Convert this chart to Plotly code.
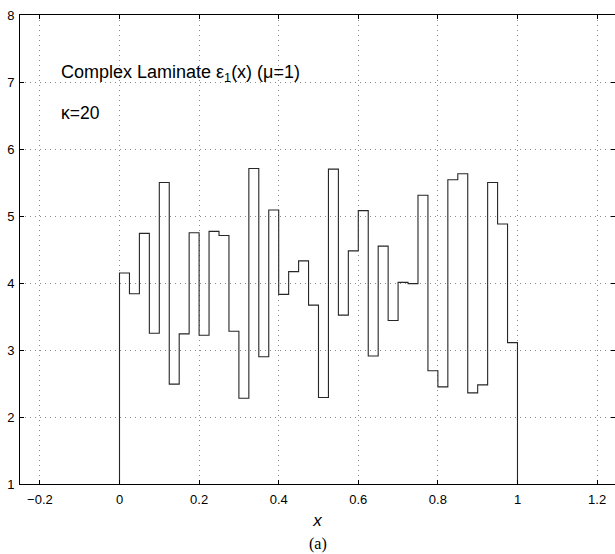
import plotly.graph_objects as go

# Piecewise-constant permittivity of a 40-layer laminate on [0, 1]
layer_edges = [i * 0.025 for i in range(40)]
eps_values = [
    4.15, 3.84, 4.74, 3.25, 5.50, 2.49, 3.24, 4.75, 3.22, 4.77,
    4.71, 3.28, 2.28, 5.71, 2.90, 5.09, 3.83, 4.17, 4.33, 3.67,
    2.29, 5.70, 3.52, 4.48, 5.08, 2.91, 4.55, 3.44, 4.01, 3.99,
    5.31, 2.69, 2.45, 5.54, 5.63, 2.36, 2.48, 5.50, 4.88, 3.11,
]
x_end = 1.0
baseline = 1.0

x_ticks = [-0.2, 0, 0.2, 0.4, 0.6, 0.8, 1, 1.2]
x_tick_text = ["\u22120.2", "0", "0.2", "0.4", "0.6", "0.8", "1", "1.2"]
y_ticks = [1, 2, 3, 4, 5, 6, 7, 8]

# step outline: rise from the baseline at x=0, fall back to it at x=1
xs = [layer_edges[0]] + layer_edges + [x_end, x_end]
ys = [baseline] + eps_values + [eps_values[-1], baseline]

font = "Liberation Sans, Arial, Helvetica, sans-serif"
grid = dict(showgrid=True, gridcolor="#8c8c8c", griddash="1px,4px", gridwidth=1)

fig = go.Figure()
fig.add_trace(go.Scatter(
    x=xs, y=ys, mode="lines", line_shape="hv",
    line=dict(color="#262626", width=1.1),
    hoverinfo="skip", showlegend=False,
))

fig.update_layout(
    width=615, height=554,
    margin=dict(l=20, r=0, t=15, b=70),
    paper_bgcolor="white", plot_bgcolor="white",
    font=dict(family=font, size=13, color="black"),
    xaxis=dict(
        range=[-0.25, 1.245], tickvals=x_ticks, ticktext=x_tick_text,
        ticks="inside", ticklen=4, tickcolor="black",
        showline=True, linecolor="black", linewidth=1, mirror="ticks",
        zeroline=False, ticklabelstandoff=3, **grid,
        title=dict(text="<i>x</i>", font=dict(size=17, family=font), standoff=8),
    ),
    yaxis=dict(
        range=[1, 8], tickvals=y_ticks,
        ticks="inside", ticklen=4, tickcolor="black",
        showline=True, linecolor="black", linewidth=1, mirror="ticks",
        zeroline=False, ticklabelstandoff=2, **grid,
    ),
    annotations=[
        dict(x=-0.152, y=7.13, xref="x", yref="y", xanchor="left", yanchor="middle",
             text="Complex Laminate \u03b5<sub>1</sub>(x) (\u03bc=1)", showarrow=False,
             font=dict(size=18, family=font)),
        dict(x=-0.152, y=6.54, xref="x", yref="y", xanchor="left", yanchor="middle",
             text="\u03ba=20", showarrow=False, font=dict(size=17.5, family=font)),
        dict(x=0.5, y=-0.127, xref="x", yref="paper", xanchor="center", yanchor="middle",
             text="(a)", showarrow=False,
             font=dict(size=16, family="Liberation Serif, Times New Roman, serif")),
    ],
)

fig.write_html("out.html")
